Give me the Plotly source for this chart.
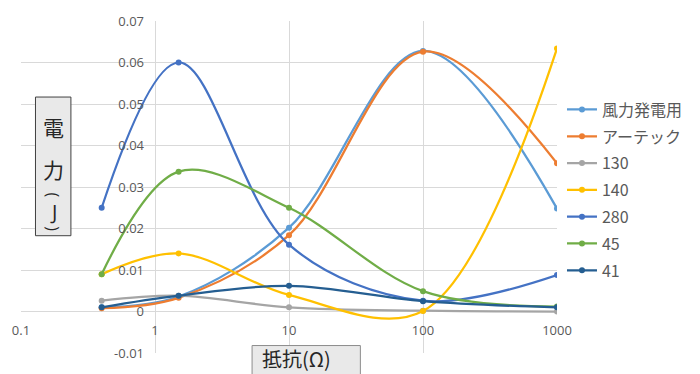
import plotly.graph_objects as go

# Load resistance (Ω) and the energy measured for each generator (J)
resistance = [0.4, 1.5, 10, 100, 1000]

series_names = ["風力発電用", "アーテック", "130", "140", "280", "45", "41"]
wind_gen = [0.0010, 0.0036, 0.0202, 0.0628, 0.0248]
artec = [0.0008, 0.0033, 0.0184, 0.0626, 0.0357]
gen_130 = [0.0026, 0.0038, 0.0010, 0.0002, 0.0000]
gen_140 = [0.0090, 0.0140, 0.0040, 0.0001, 0.0634]
gen_280 = [0.0250, 0.0600, 0.0161, 0.0026, 0.0088]
gen_45 = [0.0090, 0.0337, 0.0250, 0.0049, 0.0012]
gen_41 = [0.0010, 0.0038, 0.0062, 0.0025, 0.0010]
series_values = [wind_gen, artec, gen_130, gen_140, gen_280, gen_45, gen_41]
series_colors = ["#5B9BD5", "#ED7D31", "#A5A5A5", "#FFC000", "#4472C4", "#70AD47", "#255E91"]

x_tick_vals = [0.1, 1, 10, 100, 1000]
x_tick_text = ["0.1", "1", "10", "100", "1000"]
y_tick_vals = [-0.01, 0, 0.01, 0.02, 0.03, 0.04, 0.05, 0.06, 0.07]
y_tick_text = ["-0.01", "0", "0.01", "0.02", "0.03", "0.04", "0.05", "0.06", "0.07"]

y_min, y_max = -0.01, 0.07
x_log_min, x_log_max = -1, 3

W, H = 700, 374
ML, MR, MT, MB = 20, 143, 19, 21
PW, PH = W - ML - MR, H - MT - MB


def px_x(p):
    return (p - ML) / PW


def px_y(p):
    return (H - MB - p) / PH


fig = go.Figure()
for name, vals, col in zip(series_names, series_values, series_colors):
    fig.add_trace(go.Scatter(
        x=resistance, y=vals, name=name, legendgroup=name,
        mode="lines+markers",
        line=dict(color=col, width=2.25, shape="spline", smoothing=1),
        marker=dict(color=col, size=6),
    ))

tick_font = dict(family="Open Sans, sans-serif", size=13, color="#595959")
grid = "#D9D9D9"

fig.update_layout(
    width=W, height=H,
    margin=dict(l=ML, r=MR, t=MT, b=MB, pad=0),
    paper_bgcolor="white", plot_bgcolor="white",
    showlegend=True,
    legend=dict(
        x=px_x(562), y=px_y(91), xanchor="left", yanchor="top",
        font=dict(family="Noto Sans CJK JP, sans-serif", size=16, color="#595959"),
        tracegroupgap=3, itemwidth=30, bgcolor="rgba(0,0,0,0)",
    ),
    xaxis=dict(
        type="log", range=[x_log_min, x_log_max],
        tickvals=x_tick_vals, ticktext=x_tick_text,
        showgrid=True, gridcolor=grid, gridwidth=1,
        zeroline=False, showline=False, ticks="",
        anchor="free", position=(0 - y_min) / (y_max - y_min),
        tickfont=tick_font, ticklabelstandoff=9,
    ),
    yaxis=dict(
        range=[y_min, y_max],
        tickvals=y_tick_vals, ticktext=y_tick_text,
        showgrid=True, gridcolor=grid, gridwidth=1,
        zeroline=False, showline=False, ticks="",
        anchor="free", position=(0 - x_log_min) / (x_log_max - x_log_min),
        tickfont=tick_font, ticklabelstandoff=11,
    ),
)

# Axis title boxes
fig.add_shape(type="rect", xref="paper", yref="paper",
              x0=px_x(34.5), x1=px_x(70), y0=px_y(235), y1=px_y(95.5),
              line=dict(color="#404040", width=1), fillcolor="#E9E9E9", layer="above")
fig.add_shape(type="rect", xref="paper", yref="paper",
              x0=px_x(251.5), x1=px_x(360), y0=px_y(380), y1=px_y(345.5),
              line=dict(color="#8C8C8C", width=1), fillcolor="#E9E9E9", layer="above")

cjk_font = dict(family="Noto Sans CJK JP, sans-serif", size=21, color="#262626")
latin_font = dict(family="Open Sans, sans-serif", size=20, color="#262626")
bracket_font = dict(family="Open Sans, sans-serif", size=16, color="#262626")

# Vertical y-axis title 電力(J): stacked characters, brackets turned sideways
for ch, cy, ang, fnt in [("電", 126, 0, cjk_font), ("力", 168, 0, cjk_font),
                         ("(", 194, 90, bracket_font), ("J", 211, 0, latin_font),
                         (")", 228, 90, bracket_font)]:
    fig.add_annotation(text=ch, xref="paper", yref="paper", x=px_x(52.5), y=px_y(cy),
                       xanchor="center", yanchor="middle", showarrow=False,
                       textangle=ang, font=fnt)

fig.add_annotation(text="抵抗(Ω)", xref="paper", yref="paper", x=px_x(259), y=px_y(358.5),
                   xanchor="left", yanchor="middle", showarrow=False,
                   font=dict(family="Noto Sans CJK JP, sans-serif", size=20, color="#262626"))

fig.write_html("out.html")
